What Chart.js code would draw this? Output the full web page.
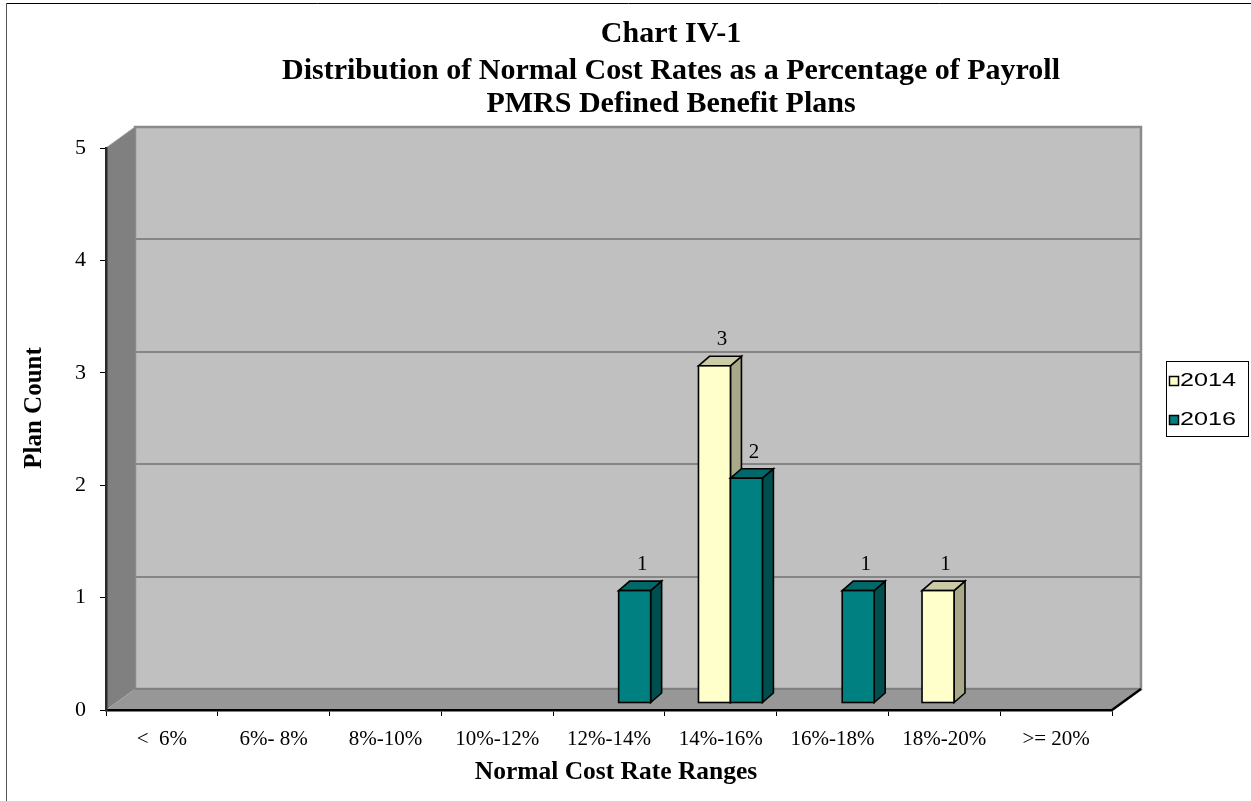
<!DOCTYPE html>
<html>
<head>
<meta charset="utf-8">
<script src="https://cdn.jsdelivr.net/npm/chart.js@4.4.1/dist/chart.umd.min.js"></script>
<style>
  html, body { margin: 0; padding: 0; background: #ffffff; }
  #wrap { width: 1251px; height: 801px; position: relative; }
</style>
</head>
<body>
<div id="wrap"><canvas id="c" width="1251" height="801"></canvas></div>
<script>
// ---- data ----
const categories = ['<  6%', '6%- 8%', '8%-10%', '10%-12%', '12%-14%', '14%-16%', '16%-18%', '18%-20%', '>= 20%'];
const plans2014 = [0, 0, 0, 0, 0, 3, 0, 1, 0];
const plans2016 = [0, 0, 0, 0, 1, 2, 1, 0, 0];
const seriesNames = ['2014', '2016'];
const titleLines = ['Chart IV-1', 'Distribution of Normal Cost Rates as a Percentage of Payroll', 'PMRS Defined Benefit Plans'];
const yAxisTitle = 'Plan Count';
const xAxisTitle = 'Normal Cost Rate Ranges';
const yTickValues = [0, 1, 2, 3, 4, 5];

// ---- look ----
const SERIF = '"Liberation Serif", "Times New Roman", serif';
const SANS = '"Liberation Sans", Arial, sans-serif';
const faces = [
  { front: '#ffffcc', top: '#cbcba6', side: '#a9a98a' },
  { front: '#008080', top: '#006868', side: '#004e4e' }
];
const WALL = { dx: 29, dy: -21 };          // depth of the 3D box
const BAR_POS = 7 / 21;                     // bars stand this far back on the floor
const BAR_DEPTH = { dx: 11, dy: -9.5 };     // thickness of each column

// Walls, floor and back gridlines, painted before axes and bars
const box3d = {
  id: 'box3d',
  beforeDraw(chart) {
    const { ctx, chartArea: a, scales } = chart;
    const L = a.left, R = a.right, T = a.top, B = a.bottom;
    const dx = WALL.dx, dy = WALL.dy;
    ctx.save();
    // page frame
    ctx.fillStyle = '#ffffff';
    ctx.fillRect(0, 0, chart.width, chart.height);
    ctx.lineWidth = 1;
    ctx.strokeStyle = '#000000';
    ctx.beginPath(); ctx.moveTo(6, 3.5); ctx.lineTo(chart.width, 3.5); ctx.stroke();
    ctx.strokeStyle = '#555555';
    ctx.beginPath(); ctx.moveTo(6.5, 3); ctx.lineTo(6.5, chart.height); ctx.stroke();

    // back wall
    ctx.fillStyle = '#c0c0c0';
    ctx.fillRect(L + dx, T + dy, R - L, B - T);
    // back gridlines
    ctx.strokeStyle = '#858585';
    ctx.lineWidth = 2;
    yTickValues.forEach(v => {
      if (v === 0 || v === yTickValues[yTickValues.length - 1]) return;
      const y = Math.round(scales.y.getPixelForValue(v) + dy);
      ctx.beginPath(); ctx.moveTo(L + dx, y); ctx.lineTo(R + dx, y); ctx.stroke();
    });
    ctx.strokeStyle = '#8a8a8a';
    ctx.lineWidth = 2.5;
    ctx.strokeRect(L + dx, T + dy, R - L, B - T);

    // left side wall
    ctx.fillStyle = '#808080';
    ctx.beginPath();
    ctx.moveTo(L, T); ctx.lineTo(L + dx, T + dy); ctx.lineTo(L + dx, B + dy); ctx.lineTo(L, B);
    ctx.closePath(); ctx.fill();
    ctx.strokeStyle = '#9a9a9a'; ctx.lineWidth = 1;
    ctx.beginPath(); ctx.moveTo(L, T); ctx.lineTo(L + dx, T + dy); ctx.stroke();

    // floor
    ctx.fillStyle = '#979797';
    ctx.beginPath();
    ctx.moveTo(L, B); ctx.lineTo(L + dx, B + dy); ctx.lineTo(R + dx, B + dy); ctx.lineTo(R, B);
    ctx.closePath(); ctx.fill();
    ctx.strokeStyle = '#7a7a7a'; ctx.lineWidth = 1.5;
    ctx.beginPath(); ctx.moveTo(L + dx, B + dy); ctx.lineTo(R + dx, B + dy); ctx.stroke();
    ctx.strokeStyle = '#000000'; ctx.lineWidth = 2.5;
    ctx.beginPath(); ctx.moveTo(R, B); ctx.lineTo(R + dx, B + dy); ctx.stroke();
    ctx.restore();
  },

  // 3D columns built on the bar elements Chart.js laid out
  afterDatasetsDraw(chart) {
    const { ctx } = chart;
    const ox = WALL.dx * BAR_POS, oy = WALL.dy * BAR_POS;
    const sdx = BAR_DEPTH.dx, sdy = BAR_DEPTH.dy;
    ctx.save();
    ctx.lineJoin = 'miter';
    for (let i = 0; i < categories.length; i++) {
      chart.data.datasets.forEach((ds, d) => {
        const v = ds.data[i];
        if (!v) return;
        const el = chart.getDatasetMeta(d).data[i];
        const x0 = el.x - el.width / 2 + ox, x1 = el.x + el.width / 2 + ox;
        const yt = el.y + oy, yb = el.base + oy;
        const f = faces[d];
        ctx.strokeStyle = '#000000';
        ctx.lineWidth = 1.6;
        // side face
        ctx.fillStyle = f.side;
        ctx.beginPath();
        ctx.moveTo(x1, yt); ctx.lineTo(x1 + sdx, yt + sdy); ctx.lineTo(x1 + sdx, yb + sdy); ctx.lineTo(x1, yb);
        ctx.closePath(); ctx.fill(); ctx.stroke();
        // top face
        ctx.fillStyle = f.top;
        ctx.beginPath();
        ctx.moveTo(x0, yt); ctx.lineTo(x0 + sdx, yt + sdy); ctx.lineTo(x1 + sdx, yt + sdy); ctx.lineTo(x1, yt);
        ctx.closePath(); ctx.fill(); ctx.stroke();
        // front face
        ctx.fillStyle = f.front;
        ctx.fillRect(x0, yt, x1 - x0, yb - yt);
        ctx.strokeRect(x0, yt, x1 - x0, yb - yt);
        // value label
        ctx.fillStyle = '#000000';
        ctx.font = '21px ' + SERIF;
        ctx.textAlign = 'center';
        ctx.textBaseline = 'alphabetic';
        ctx.fillText(String(v), (x0 + x1) / 2 + sdx / 2 + 2, yt + sdy - 11);
      });
    }
    ctx.restore();
  },

  // title block, axis titles and boxed legend
  afterDraw(chart) {
    const { ctx } = chart;
    ctx.save();
    ctx.fillStyle = '#000000';
    ctx.textAlign = 'center';
    ctx.textBaseline = 'middle';
    ctx.font = 'bold 30px ' + SERIF;
    const ty = [34, 71, 104];
    titleLines.forEach((t, k) => ctx.fillText(t, 671, ty[k]));

    ctx.font = 'bold 25.5px ' + SERIF;
    ctx.fillText(xAxisTitle, 616, 772);

    ctx.save();
    ctx.translate(35, 408);
    ctx.rotate(-Math.PI / 2);
    ctx.font = 'bold 25px ' + SERIF;
    ctx.fillText(yAxisTitle, 0, 0);
    ctx.restore();

    // legend
    const lx = 1166.5, ly = 361.5, lw = 82, lh = 75;
    ctx.fillStyle = '#ffffff';
    ctx.fillRect(lx, ly, lw, lh);
    ctx.strokeStyle = '#000000';
    ctx.lineWidth = 1;
    ctx.strokeRect(lx, ly, lw, lh);
    const rows = [381, 420];
    seriesNames.forEach((name, d) => {
      ctx.fillStyle = faces[d].front;
      ctx.fillRect(1169.5, rows[d] - 4.5, 9, 9);
      ctx.strokeStyle = '#000000';
      ctx.lineWidth = 1.5;
      ctx.strokeRect(1169.5, rows[d] - 4.5, 9, 9);
      ctx.save();
      ctx.translate(1180, rows[d]);
      ctx.scale(1.4, 1);
      ctx.fillStyle = '#000000';
      ctx.font = '18px ' + SANS;
      ctx.textAlign = 'left';
      ctx.textBaseline = 'middle';
      ctx.fillText(name, 0, 0);
      ctx.restore();
    });
    ctx.restore();
  }
};

const chart = new Chart(document.getElementById('c'), {
  type: 'bar',
  data: {
    labels: categories,
    datasets: [
      { label: seriesNames[0], data: plans2014, backgroundColor: 'rgba(0,0,0,0)', borderWidth: 0, categoryPercentage: 0.572, barPercentage: 1.0 },
      { label: seriesNames[1], data: plans2016, backgroundColor: 'rgba(0,0,0,0)', borderWidth: 0, categoryPercentage: 0.572, barPercentage: 1.0 }
    ]
  },
  options: {
    responsive: false,
    animation: false,
    devicePixelRatio: 1,
    events: [],
    layout: { padding: { left: 8, right: 139, top: 148, bottom: 0 } },
    plugins: {
      legend: { display: false },
      title: { display: false },
      tooltip: { enabled: false }
    },
    scales: {
      x: {
        offset: true,
        grid: { offset: true, drawOnChartArea: false, drawTicks: true, tickLength: 6, tickColor: '#000000', tickWidth: 1 },
        border: { display: true, color: '#000000', width: 2.5 },
        ticks: { color: '#000000', font: { family: SERIF, size: 21 }, padding: 11, maxRotation: 0, autoSkip: false },
        afterFit(s) { s.height = 91; }
      },
      y: {
        min: 0, max: 5,
        ticks: { stepSize: 1, color: '#000000', font: { family: SERIF, size: 22 }, padding: 14 },
        grid: { drawOnChartArea: false, drawTicks: true, tickLength: 6, tickColor: '#000000', tickWidth: 1 },
        border: { display: true, color: '#2a2a2a', width: 2.5 },
        afterFit(s) { s.width = 98; }
      }
    }
  },
  plugins: [box3d]
});
</script>
</body>
</html>
